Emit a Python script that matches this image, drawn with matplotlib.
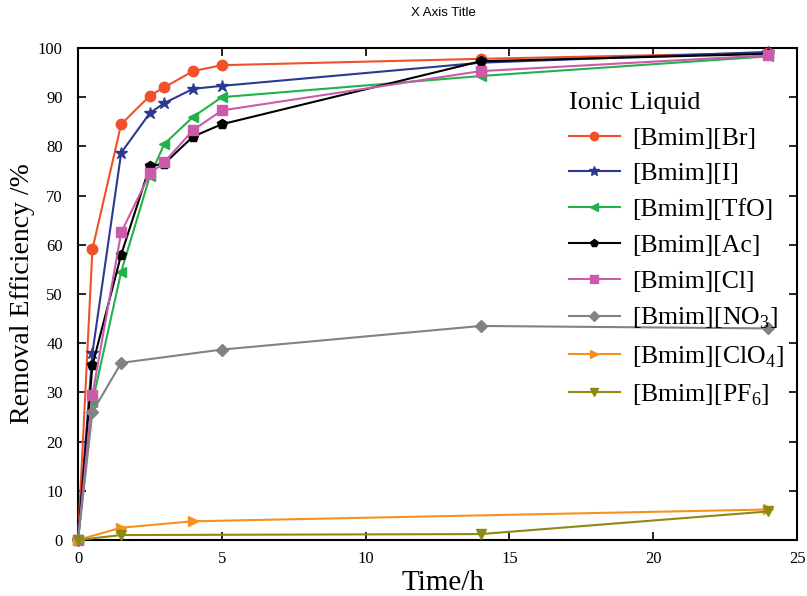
import matplotlib
matplotlib.use('Agg')
import matplotlib.pyplot as plt

# data
t_br = [0, 0.5, 1.5, 2.5, 3, 4, 5, 14, 24]
br = [0, 59.1, 84.5, 90.3, 92.0, 95.3, 96.5, 97.8, 99.0]
t_i = [0, 0.5, 1.5, 2.5, 3, 4, 5, 14, 24]
bmim_i = [0, 38.0, 78.7, 86.8, 88.8, 91.7, 92.3, 97.0, 99.2]
t_tfo = [0, 0.5, 1.5, 2.5, 3, 4, 5, 14, 24]
tfo = [0, 28.0, 54.5, 74.0, 80.5, 86.0, 90.0, 94.3, 98.3]
t_ac = [0, 0.5, 1.5, 2.5, 3, 4, 5, 14, 24]
ac = [0, 35.5, 58.0, 76.0, 76.5, 82.0, 84.5, 97.3, 98.8]
t_cl = [0, 0.5, 1.5, 2.5, 3, 4, 5, 14, 24]
cl = [0, 29.5, 62.5, 74.5, 76.8, 83.3, 87.3, 95.3, 98.5]
t_no3 = [0, 0.5, 1.5, 5, 14, 24]
no3 = [0, 26.0, 36.0, 38.7, 43.5, 43.0]
t_clo4 = [0, 1.5, 4, 24]
clo4 = [0, 2.5, 3.8, 6.2]
t_pf6 = [0, 1.5, 14, 24]
pf6 = [0, 1.0, 1.2, 5.8]

series = [
    (t_br, br, '[Bmim][Br]', '#f0512a', 'o'),
    (t_i, bmim_i, '[Bmim][I]', '#2b3990', '*'),
    (t_tfo, tfo, '[Bmim][TfO]', '#22b24c', '<'),
    (t_ac, ac, '[Bmim][Ac]', '#000000', 'p'),
    (t_cl, cl, '[Bmim][Cl]', '#cc5aaa', 's'),
    (t_no3, no3, '[Bmim][NO$_3$]', '#808285', 'D'),
    (t_clo4, clo4, '[Bmim][ClO$_4$]', '#f7901e', '>'),
    (t_pf6, pf6, '[Bmim][PF$_6$]', '#8d8a14', 'v'),
]

plt.rcParams['mathtext.fontset'] = 'custom'
plt.rcParams['mathtext.rm'] = 'Liberation Serif'
serif = 'Liberation Serif'

fig = plt.figure(figsize=(8.07, 5.96), dpi=100)
ax = fig.add_axes([0.0967, 0.094, 0.891, 0.8255])

for x, y, lab, col, mk in series:
    ms = 9 if mk == '*' else (6.5 if mk == 'D' else 7.5)
    ax.plot(x, y, color=col, marker=mk, markersize=ms, linewidth=1.5,
            label=lab, clip_on=False, zorder=3)

ax.set_xlim(0, 25)
ax.set_ylim(0, 100)
ax.set_xticks([0, 5, 10, 15, 20, 25])
ax.set_yticks(range(0, 101, 10))
ax.tick_params(direction='in', length=6, width=1.2, top=True, right=True,
               labelsize=12)
ax.tick_params(axis='x', pad=8)
ax.tick_params(axis='y', pad=11)
for lbl in ax.get_xticklabels() + ax.get_yticklabels():
    lbl.set_fontfamily(serif)
for sp in ax.spines.values():
    sp.set_linewidth(1.5)

ax.set_xlabel('Time/h', fontsize=21, fontfamily=serif)
ax.xaxis.set_label_coords(0.507, -0.062)
ax.set_ylabel('Removal Efficiency /%', fontsize=20, fontfamily=serif, labelpad=2)
fig.text(0.549, 0.978, 'X Axis Title', ha='center', va='center', fontsize=9.5,
         fontfamily='Liberation Sans')

leg = ax.legend(loc='upper left', bbox_to_anchor=(0.650, 0.958), frameon=False,
                prop={'family': serif, 'size': 18.5}, title='Ionic Liquid',
                title_fontproperties={'family': serif, 'size': 19},
                handlelength=2.0, labelspacing=0.5, handletextpad=0.47,
                markerscale=0.8)
leg._legend_box.align = 'left'

plt.savefig('out.png', dpi=100)
plt.close(fig)
